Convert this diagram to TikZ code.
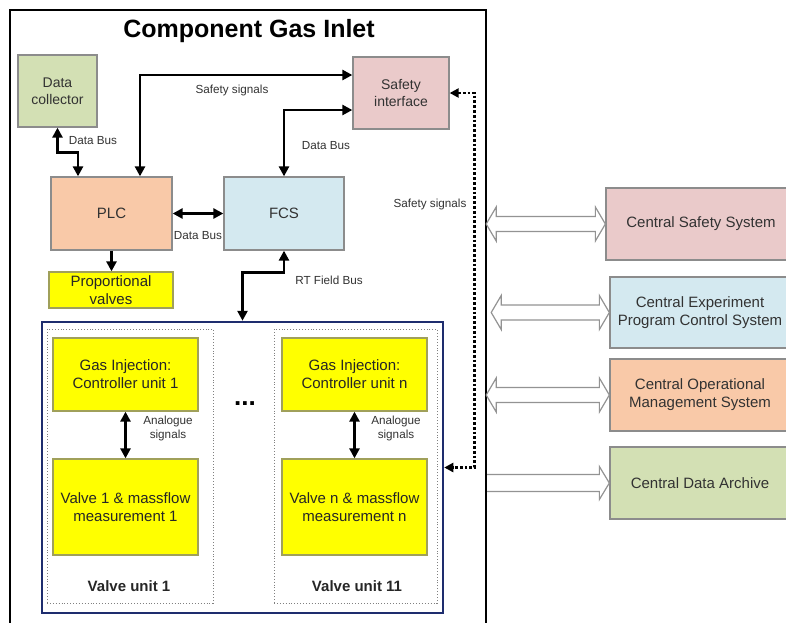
\documentclass[tikz,border=0pt]{standalone}
\usepackage{fontspec}
\setmainfont{Liberation Sans}
\usetikzlibrary{arrows.meta,calc}
\definecolor{cgreen}{RGB}{211,224,180}
\definecolor{cpink}{RGB}{234,202,202}
\definecolor{cpeach}{RGB}{249,201,168}
\definecolor{cblue}{RGB}{212,233,240}
\definecolor{cyel}{RGB}{255,255,0}
\definecolor{cyelb}{RGB}{160,160,90}
\definecolor{cnavy}{RGB}{30,45,110}
\definecolor{cborder}{RGB}{140,140,140}
\definecolor{ctext}{RGB}{50,50,50}
\newcommand{\hollowdbl}[2]{%
  \draw[hollow] (#1) -- ($(#1)+(10,-17)$) -- ($(#1)+(10,-7.5)$) -- ($(#2)+(-10,-7.5)$) -- ($(#2)+(-10,-17)$) -- (#2)
   -- ($(#2)+(-10,17)$) -- ($(#2)+(-10,7.5)$) -- ($(#1)+(10,7.5)$) -- ($(#1)+(10,17)$) -- cycle;}
\newcommand{\hollowone}[2]{%
  \draw[hollow] ($(#1)+(0,-8.5)$) -- ($(#2)+(-10,-8.5)$) -- ($(#2)+(-10,-16.5)$) -- (#2)
   -- ($(#2)+(-10,16.5)$) -- ($(#2)+(-10,8.5)$) -- ($(#1)+(0,8.5)$);}
\begin{document}
\begin{tikzpicture}[x=1pt,y=-1pt,
  box/.style={draw=cborder, line width=1.3pt, rectangle, inner sep=0pt, align=center, text=ctext, font=\fontsize{15}{18}\selectfont},
  ybox/.style={box, fill=cyel, draw=cyelb, text=black!85},
  lbl/.style={font=\fontsize{11.7}{14}\selectfont, text=ctext, align=center, inner sep=0pt},
  biarrow/.style={line width=2.6pt, {Triangle[length=10pt,width=10pt]}-{Triangle[length=10pt,width=10pt]}},
  onearrow/.style={line width=2.6pt, -{Triangle[length=10pt,width=10pt]}},
  dotline/.style={line width=2.8pt, dash pattern=on 2.8pt off 2pt, {Triangle[length=9pt,width=9pt]}-{Triangle[length=9pt,width=9pt]}},
  hollow/.style={draw=gray!85, fill=white, line width=1.2pt, line join=miter},
  unitbox/.style={draw=gray, dotted, line width=0.9pt, inner sep=0pt},
]
\useasboundingbox (0,0) rectangle (786,622);
\clip (0,0) rectangle (786,622);

% outer frame and title
\node[draw, line width=2.4pt, minimum width=476pt, minimum height=630pt, inner sep=0pt] (frame) at (248,325) {};
\node[font=\fontsize{25}{30}\selectfont\bfseries, inner sep=0pt] (title) at (249,31) {Component Gas Inlet};

% upper boxes
\node[box, fill=cgreen, minimum width=79pt, minimum height=72pt, font=\fontsize{14}{17}\selectfont] (dc) at (57.5,91) {Data\\collector};
\node[box, fill=cpink, minimum width=96pt, minimum height=72pt, font=\fontsize{14}{17}\selectfont] (si) at (401,93) {Safety\\interface};
\node[box, fill=cpeach, minimum width=121pt, minimum height=73pt] (plc) at (111.5,213.5) {PLC};
\node[box, fill=cblue, minimum width=120pt, minimum height=73pt] (fcs) at (284,213.5) {FCS};
\node[ybox, minimum width=124pt, minimum height=36pt] (pv) at (111,290) {Proportional\\valves};

% valve units
\node[draw=cnavy, line width=2.5pt, minimum width=401pt, minimum height=291pt, inner sep=0pt] (vbox) at (242.5,467.5) {};
\node[unitbox, minimum width=166pt, minimum height=274pt] (u1) at (130,466) {};
\node[unitbox, minimum width=163pt, minimum height=274pt] (un) at (355.5,466) {};
\node[ybox, minimum width=145pt, minimum height=73pt] (g1) at (125.5,374.5) {Gas Injection:\\Controller unit 1};
\node[ybox, minimum width=145pt, minimum height=96pt] (v1) at (125.5,507) {Valve 1 \& massflow\\measurement 1};
\node[ybox, minimum width=145pt, minimum height=73pt] (gn) at (354.5,374.5) {Gas Injection:\\Controller unit n};
\node[ybox, minimum width=145pt, minimum height=96pt] (vn) at (354.5,507) {Valve n \& massflow\\measurement n};
\node[font=\fontsize{15}{18}\selectfont\bfseries, text=black!85, inner sep=0pt] (vu1) at (129,586) {Valve unit 1};
\node[font=\fontsize{15}{18}\selectfont\bfseries, text=black!85, inner sep=0pt] (vun) at (357,586) {Valve unit 11};
\node[font=\fontsize{26}{28}\selectfont\bfseries, inner sep=0pt] (dots) at (245,404) {...};

% central systems
\node[box, fill=cpink, minimum width=190pt, minimum height=72pt] (css) at (701,224) {Central Safety System};
\node[box, fill=cblue, minimum width=180pt, minimum height=71pt] (ceps) at (700,312.5) {Central Experiment\\Program Control System};
\node[box, fill=cpeach, minimum width=180pt, minimum height=72pt] (coms) at (700,395) {Central Operational\\Management System};
\node[box, fill=cgreen, minimum width=180pt, minimum height=72pt] (cda) at (700,483) {Central Data Archive};

% connectors
\draw[biarrow] ([xshift=28.5pt]plc.north) |- ([yshift=18pt]si.west);
\draw[biarrow] (fcs.north) |- ([yshift=-17pt]si.west);
\draw[biarrow] (dc.south) -- ++(0,25) -| ([xshift=-33.5pt]plc.north);
\draw[biarrow] (plc.east) -- (fcs.west);
\draw[onearrow] (plc.south) -- (plc.south |- pv.north);
\draw[biarrow] (fcs.south) -- ++(0,22) -| (vbox.north);
\draw[biarrow] (g1.south) -- (v1.north);
\draw[biarrow] (gn.south) -- (vn.north);
\draw[dotline] (si.east) -- ++(25,0) |- (vbox.east);

% labels
\node[lbl] (l1) at (232,90) {Safety signals};
\node[lbl] (l2) at (93,141) {Data Bus};
\node[lbl] (l3) at (326,146) {Data Bus};
\node[lbl] (l4) at (198,236) {Data Bus};
\node[lbl] (l5) at (329,280) {RT Field Bus};
\node[lbl] (l6) at (430,204) {Safety signals};
\node[lbl] (l7) at (168,428) {Analogue\\signals};
\node[lbl] (l8) at (396,428) {Analogue\\signals};

% hollow arrows to central systems
\coordinate (h1a) at ([xshift=-1pt]frame.east |- css.west);
\coordinate (h2a) at ([xshift=4pt]frame.east |- ceps.west);
\coordinate (h3a) at ([xshift=-1pt]frame.east |- coms.west);
\coordinate (h4a) at (frame.east |- cda.west);
\hollowdbl{h1a}{css.west}
\hollowdbl{h2a}{ceps.west}
\hollowdbl{h3a}{coms.west}
\hollowone{h4a}{cda.west}
\end{tikzpicture}
\end{document}
